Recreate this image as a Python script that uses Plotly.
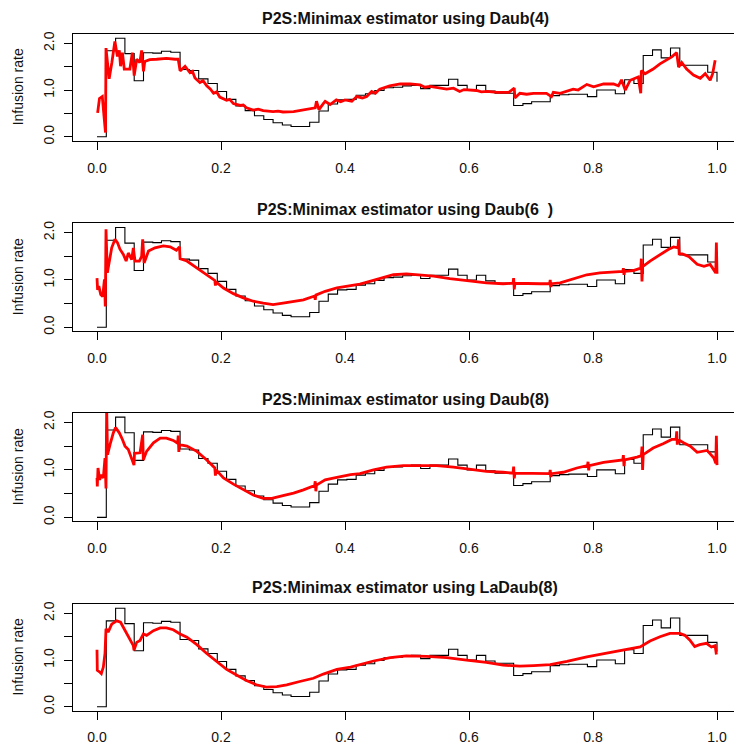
import plotly.graph_objects as go

# Observed infusion-rate histogram (left bin edges and heights), shared by all panels
bin_left = [0.000, 0.015, 0.030, 0.045, 0.060, 0.075, 0.090, 0.104, 0.119, 0.134,
            0.149, 0.164, 0.179, 0.194, 0.209, 0.224, 0.239, 0.254, 0.269, 0.284,
            0.299, 0.313, 0.328, 0.343, 0.358, 0.373, 0.388, 0.403, 0.418, 0.433,
            0.448, 0.463, 0.478, 0.493, 0.507, 0.522, 0.537, 0.552, 0.567, 0.582,
            0.597, 0.612, 0.627, 0.642, 0.657, 0.672, 0.687, 0.701, 0.716, 0.731,
            0.746, 0.761, 0.776, 0.791, 0.806, 0.821, 0.836, 0.851, 0.866, 0.881,
            0.896, 0.910, 0.925, 0.940, 0.955, 0.970, 0.985]
bin_height = [0.00, 1.84, 2.11, 1.78, 1.20, 1.80, 1.79, 1.83, 1.81, 1.44,
              1.42, 1.24, 1.14, 0.97, 0.80, 0.66, 0.56, 0.45, 0.37, 0.30,
              0.25, 0.22, 0.22, 0.31, 0.55, 0.70, 0.79, 0.80, 0.89, 0.92,
              0.99, 1.05, 1.06, 1.09, 1.10, 1.03, 1.10, 1.10, 1.23, 1.10,
              1.00, 1.10, 0.98, 0.93, 0.93, 0.67, 0.71, 0.75, 0.75, 0.88,
              0.90, 0.91, 0.91, 0.86, 1.00, 1.00, 0.92, 1.22, 1.14, 1.74,
              1.86, 1.69, 1.90, 1.53, 1.53, 1.53, 1.38]
hist_end = (1.0, 1.18)

# Wavelet minimax estimates, (x, rate) pairs
daub4 = [(0.001, 0.51), (0.004, 0.82), (0.0085, 0.86), (0.011, 0.47), (0.0137, 0.09),
         (0.0145, 1.90), (0.017, 1.51), (0.0196, 1.24), (0.024, 1.59), (0.0258, 1.80),
         (0.0288, 2.04), (0.033, 1.72), (0.036, 1.85), (0.038, 1.51), (0.041, 1.80),
         (0.044, 1.45), (0.053, 1.45), (0.057, 1.80), (0.060, 1.31), (0.064, 1.66),
         (0.069, 1.59), (0.072, 1.85), (0.075, 1.40), (0.077, 1.61), (0.085, 1.65),
         (0.096, 1.66), (0.112, 1.68), (0.126, 1.66), (0.131, 1.66), (0.134, 1.41),
         (0.142, 1.51), (0.150, 1.37), (0.154, 1.40), (0.158, 1.26), (0.166, 1.16),
         (0.171, 1.20), (0.177, 1.09), (0.183, 1.02), (0.188, 0.93), (0.193, 0.96),
         (0.198, 0.85), (0.209, 0.78), (0.214, 0.80), (0.220, 0.71), (0.231, 0.67),
         (0.236, 0.68), (0.241, 0.62), (0.252, 0.57), (0.260, 0.59), (0.268, 0.56),
         (0.284, 0.54), (0.292, 0.55), (0.300, 0.53), (0.317, 0.54), (0.325, 0.56),
         (0.333, 0.57), (0.345, 0.60), (0.352, 0.62), (0.354, 0.76), (0.358, 0.58),
         (0.365, 0.71), (0.368, 0.76), (0.376, 0.69), (0.386, 0.79), (0.393, 0.75),
         (0.400, 0.79), (0.411, 0.76), (0.419, 0.86), (0.428, 0.83), (0.435, 0.86),
         (0.443, 0.97), (0.449, 0.93), (0.456, 1.02), (0.472, 1.09), (0.489, 1.13),
         (0.505, 1.13), (0.521, 1.11), (0.529, 1.06), (0.537, 1.08), (0.545, 1.06),
         (0.564, 1.02), (0.575, 1.04), (0.585, 0.97), (0.592, 1.01), (0.599, 1.00),
         (0.612, 0.99), (0.620, 0.96), (0.629, 0.97), (0.645, 0.95), (0.664, 0.95),
         (0.673, 1.04), (0.674, 0.83), (0.682, 0.93), (0.693, 0.91), (0.704, 0.93),
         (0.725, 0.93), (0.733, 0.86), (0.736, 0.95), (0.747, 0.93), (0.758, 0.98),
         (0.768, 1.02), (0.776, 1.00), (0.790, 1.12), (0.801, 1.07), (0.817, 1.13),
         (0.833, 1.13), (0.841, 1.09), (0.846, 1.22), (0.852, 1.00), (0.860, 1.21),
         (0.873, 1.28), (0.877, 0.93), (0.878, 1.42), (0.884, 1.35), (0.897, 1.45),
         (0.908, 1.56), (0.919, 1.64), (0.927, 1.71), (0.935, 1.80), (0.938, 1.49),
         (0.943, 1.59), (0.951, 1.45), (0.962, 1.32), (0.973, 1.25), (0.981, 1.35),
         (0.989, 1.21), (0.993, 1.35), (0.997, 1.64)]

daub6 = [(0.000, 1.04), (0.001, 0.79), (0.003, 0.87), (0.006, 0.69), (0.0092, 0.65),
         (0.012, 1.01), (0.0134, 0.44), (0.0145, 2.07), (0.0167, 1.15), (0.0199, 1.43),
         (0.0237, 1.68), (0.029, 1.86), (0.033, 1.79), (0.037, 1.65), (0.0425, 1.54),
         (0.047, 1.40), (0.0505, 1.57), (0.056, 1.43), (0.0586, 1.68), (0.0613, 1.40),
         (0.0683, 1.40), (0.072, 1.50), (0.0737, 1.86), (0.076, 1.36), (0.083, 1.61),
         (0.0935, 1.68), (0.107, 1.72), (0.118, 1.70), (0.128, 1.63), (0.133, 1.70),
         (0.134, 1.45), (0.145, 1.40), (0.161, 1.26), (0.177, 1.11), (0.190, 0.99),
         (0.191, 0.88), (0.192, 0.96), (0.204, 0.83), (0.220, 0.71), (0.236, 0.62),
         (0.252, 0.55), (0.268, 0.51), (0.284, 0.48), (0.300, 0.51), (0.317, 0.55),
         (0.333, 0.58), (0.351, 0.66), (0.352, 0.58), (0.353, 0.68), (0.368, 0.76),
         (0.387, 0.83), (0.403, 0.87), (0.424, 0.91), (0.440, 0.97), (0.457, 1.04),
         (0.478, 1.11), (0.499, 1.13), (0.521, 1.11), (0.543, 1.08), (0.569, 1.03),
         (0.596, 0.99), (0.628, 0.94), (0.655, 0.92), (0.671, 0.93), (0.672, 1.04),
         (0.673, 0.80), (0.674, 0.93), (0.693, 0.92), (0.715, 0.92), (0.730, 0.92),
         (0.731, 1.00), (0.732, 0.85), (0.733, 0.92), (0.747, 0.94), (0.769, 1.02),
         (0.790, 1.11), (0.811, 1.15), (0.833, 1.17), (0.848, 1.18), (0.849, 1.25),
         (0.850, 1.11), (0.851, 1.18), (0.865, 1.20), (0.877, 1.25), (0.878, 1.45),
         (0.879, 0.97), (0.880, 1.28), (0.892, 1.40), (0.908, 1.54), (0.922, 1.65),
         (0.930, 1.70), (0.937, 1.68), (0.938, 1.86), (0.939, 1.55), (0.944, 1.55),
         (0.954, 1.50), (0.968, 1.33), (0.979, 1.29), (0.989, 1.33), (0.994, 1.22),
         (0.998, 1.15), (0.999, 1.79), (1.000, 1.13)]

daub8 = [(0.000, 0.83), (0.0005, 0.65), (0.0016, 1.04), (0.0043, 0.79), (0.007, 0.90),
         (0.0102, 0.83), (0.0129, 1.25), (0.0145, 0.61), (0.0156, 2.30), (0.017, 1.32),
         (0.021, 1.53), (0.0263, 1.78), (0.030, 1.89), (0.036, 1.78), (0.041, 1.64),
         (0.0452, 1.50), (0.0505, 1.43), (0.0559, 1.25), (0.0597, 1.10), (0.0605, 1.35),
         (0.064, 1.36), (0.0694, 1.36), (0.0737, 1.74), (0.0747, 1.21), (0.080, 1.39),
         (0.091, 1.57), (0.102, 1.67), (0.112, 1.67), (0.123, 1.62), (0.130, 1.56),
         (0.131, 1.72), (0.132, 1.38), (0.133, 1.53), (0.145, 1.50), (0.161, 1.39),
         (0.177, 1.21), (0.190, 1.04), (0.191, 0.88), (0.192, 1.00), (0.204, 0.83),
         (0.220, 0.70), (0.236, 0.58), (0.252, 0.47), (0.268, 0.40), (0.282, 0.40),
         (0.300, 0.46), (0.317, 0.51), (0.333, 0.58), (0.351, 0.67), (0.352, 0.76),
         (0.353, 0.55), (0.354, 0.68), (0.368, 0.79), (0.387, 0.84), (0.409, 0.90),
         (0.424, 0.92), (0.446, 1.00), (0.467, 1.06), (0.494, 1.09), (0.521, 1.09),
         (0.548, 1.09), (0.575, 1.06), (0.602, 1.02), (0.628, 0.97), (0.655, 0.95),
         (0.671, 0.93), (0.672, 1.07), (0.673, 0.82), (0.674, 0.93), (0.704, 0.92),
         (0.730, 0.92), (0.731, 1.00), (0.732, 0.85), (0.733, 0.92), (0.752, 0.95),
         (0.774, 1.04), (0.791, 1.09), (0.792, 1.17), (0.793, 0.99), (0.794, 1.09),
         (0.817, 1.16), (0.848, 1.21), (0.849, 1.31), (0.850, 1.08), (0.851, 1.21),
         (0.871, 1.27), (0.878, 1.30), (0.879, 1.49), (0.880, 1.00), (0.881, 1.32),
         (0.897, 1.46), (0.913, 1.55), (0.927, 1.64), (0.934, 1.64), (0.935, 1.81),
         (0.936, 1.53), (0.937, 1.64), (0.946, 1.57), (0.957, 1.50), (0.968, 1.37),
         (0.984, 1.41), (0.995, 1.25), (0.998, 1.14), (0.999, 1.72), (1.000, 1.10)]

ladaub8 = [(0.000, 1.22), (0.0005, 0.78), (0.004, 0.75), (0.007, 0.71), (0.0102, 0.85),
           (0.0129, 1.14), (0.0145, 1.67), (0.018, 1.60), (0.0237, 1.77), (0.0317, 1.84),
           (0.038, 1.81), (0.0452, 1.63), (0.0532, 1.45), (0.0586, 1.31), (0.0597, 1.21),
           (0.064, 1.38), (0.0694, 1.42), (0.0747, 1.56), (0.080, 1.53), (0.091, 1.63),
           (0.102, 1.69), (0.112, 1.69), (0.123, 1.65), (0.134, 1.56), (0.145, 1.49),
           (0.161, 1.33), (0.177, 1.14), (0.193, 0.96), (0.209, 0.80), (0.225, 0.68),
           (0.241, 0.56), (0.257, 0.47), (0.273, 0.42), (0.290, 0.43), (0.306, 0.47),
           (0.327, 0.54), (0.349, 0.61), (0.365, 0.70), (0.387, 0.80), (0.409, 0.85),
           (0.424, 0.90), (0.446, 0.98), (0.473, 1.05), (0.499, 1.09), (0.532, 1.08),
           (0.564, 1.05), (0.596, 1.00), (0.628, 0.95), (0.655, 0.89), (0.682, 0.87),
           (0.704, 0.88), (0.731, 0.90), (0.758, 0.97), (0.790, 1.07), (0.822, 1.15),
           (0.849, 1.21), (0.876, 1.28), (0.892, 1.41), (0.908, 1.50), (0.924, 1.57),
           (0.940, 1.57), (0.948, 1.53), (0.956, 1.43), (0.964, 1.29), (0.972, 1.33),
           (0.983, 1.36), (0.991, 1.28), (0.997, 1.31), (0.999, 1.12)]

titles = ["P2S:Minimax estimator using Daub(4)",
          "P2S:Minimax estimator using Daub(6  )",
          "P2S:Minimax estimator using Daub(8)",
          "P2S:Minimax estimator using LaDaub(8)"]
estimates = [daub4, daub6, daub8, ladaub8]

x_tickvals = [0.0, 0.2, 0.4, 0.6, 0.8, 1.0]
x_ticktext = ["0.0", "0.2", "0.4", "0.6", "0.8", "1.0"]
y_tickvals = [0.0, 0.5, 1.0, 1.5, 2.0]
y_ticktext = ["0.0", "", "1.0", "", "2.0"]
y_label = "Infusion rate"

# ---- layout geometry (pixels) ----
W, H = 734, 755
FONT = "Liberation Sans, Arial, sans-serif"
box_left = 73
x_zero_px, px_per_unit = 97, 620
panel_px = [(31.3, 139.0), (222.3, 331.3), (413.7, 523.3), (606.7, 714.3)]  # top, bottom
title_px = [16, 208, 400, 590]
x_range = [(box_left - x_zero_px) / px_per_unit, (W - x_zero_px) / px_per_unit]
y_range = [-0.085, 2.2]

fig = go.Figure()
hx = bin_left + [hist_end[0]]
hy = bin_height + [hist_end[1]]

layout_axes = {}
annotations = []
for i, (est, title, (top, bot)) in enumerate(zip(estimates, titles, panel_px)):
    n = i + 1
    xa = "x" if n == 1 else f"x{n}"
    ya = "y" if n == 1 else f"y{n}"
    fig.add_trace(go.Scatter(x=hx, y=hy, mode="lines", xaxis=xa, yaxis=ya,
                             line=dict(color="black", width=1.1, shape="hv"),
                             showlegend=False, hoverinfo="skip"))
    ex = [p[0] for p in est]
    ey = [p[1] for p in est]
    fig.add_trace(go.Scatter(x=ex, y=ey, mode="lines", xaxis=xa, yaxis=ya,
                             line=dict(color="#ff0000", width=2.8),
                             showlegend=False))
    xkey = "xaxis" if n == 1 else f"xaxis{n}"
    ykey = "yaxis" if n == 1 else f"yaxis{n}"
    layout_axes[xkey] = dict(
        domain=[box_left / W, 1.0], range=x_range, anchor=ya,
        showgrid=False, zeroline=False, showline=True, linecolor="black",
        linewidth=1, mirror=True, ticks="outside", ticklen=8, tickwidth=1,
        tickcolor="black", tickvals=x_tickvals, ticktext=x_ticktext,
        ticklabelstandoff=6,
        tickfont=dict(family=FONT, size=14, color="#111"),
    )
    layout_axes[ykey] = dict(
        domain=[1 - bot / H, 1 - top / H], range=y_range, anchor=xa,
        showgrid=False, zeroline=False, showline=True, linecolor="black",
        linewidth=1, ticks="outside", ticklen=8, tickwidth=1, tickcolor="black",
        tickvals=y_tickvals, ticktext=y_ticktext, tickangle=-90,
        ticklabelstandoff=4,
        tickfont=dict(family=FONT, size=14, color="#111"),
    )
    annotations.append(dict(
        text=f"<b>{title}</b>", x=405 / W, y=1 - title_px[i] / H,
        xref="paper", yref="paper", xanchor="center", yanchor="middle",
        showarrow=False, font=dict(family=FONT, size=16, color="#111")))
    annotations.append(dict(
        text=y_label, x=18 / W, y=1 - (top + bot) / 2 / H,
        xref="paper", yref="paper", xanchor="center", yanchor="middle",
        textangle=-90, showarrow=False,
        font=dict(family=FONT, size=14, color="#111")))

fig.update_layout(
    width=W, height=H, margin=dict(l=0, r=0, t=0, b=0),
    paper_bgcolor="white", plot_bgcolor="white",
    annotations=annotations, **layout_axes,
)

fig.write_html("out.html")
